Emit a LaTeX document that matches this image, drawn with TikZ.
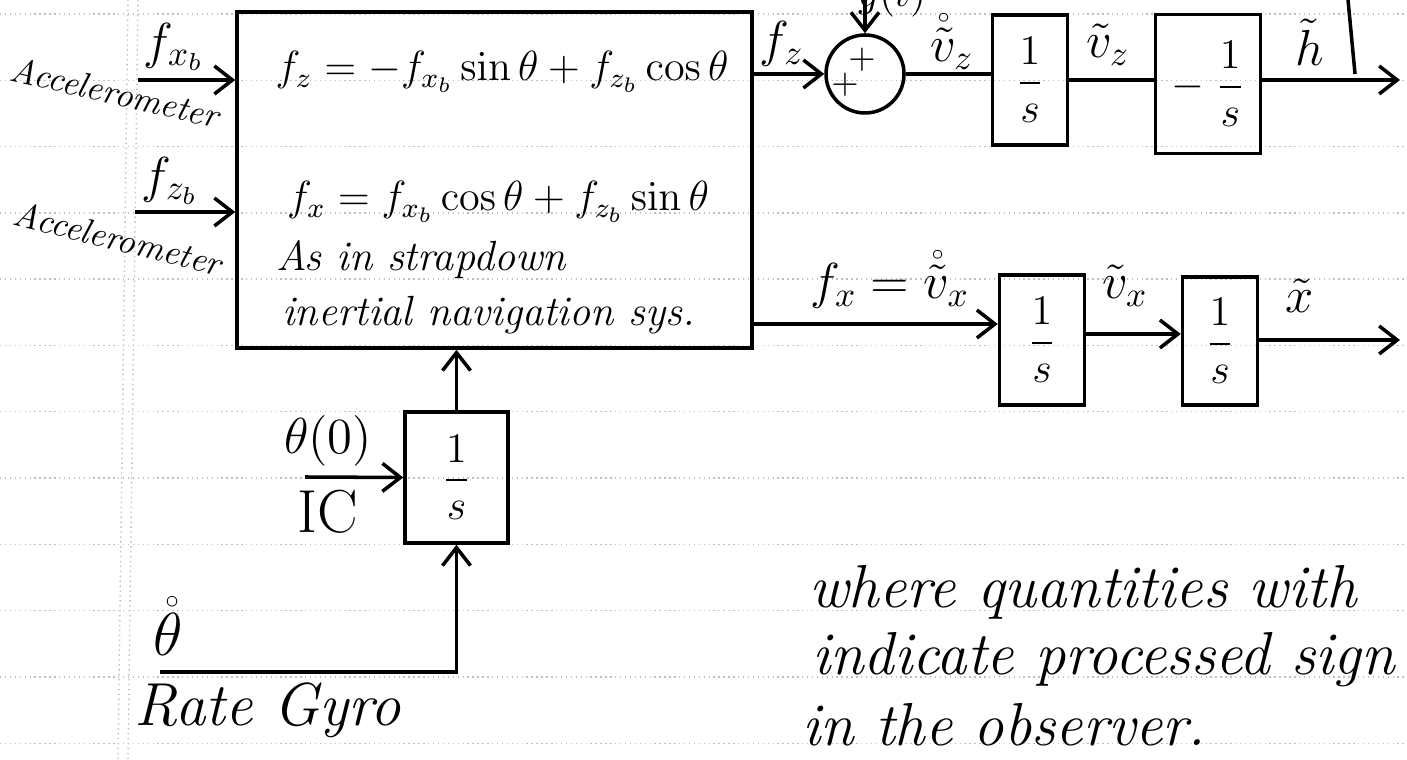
\documentclass[tikz,border=0pt]{standalone}
\usepackage{amsmath,amssymb}
\usetikzlibrary{arrows.meta,positioning}

\begin{document}
\begin{tikzpicture}[
  blk/.style={draw,line width=1pt,inner sep=0pt,font=\large},
  summer/.style={circle,draw,line width=1pt,minimum size=7.8mm,inner sep=0pt},
  sig/.style={line width=1pt,-{Straight Barb[length=1.8mm,width=2.8mm]}},
  wire/.style={line width=1pt},
  lbl/.style={font=\Large,inner sep=1pt},
  hand/.style={font=\LARGE\itshape,inner sep=1pt},
  ruling/.style={draw=black!25,densely dotted,line width=0.4pt}
]
\useasboundingbox (0,0) rectangle (14.07,7.60);
% ruled paper
\foreach \k in {0,...,11}
  \draw[ruling] (0,{7.46-0.663*\k}) -- (14.07,{7.46-0.663*\k});
\draw[ruling] (1.28,7.60) -- (1.18,0);
\draw[ruling] (1.38,7.60) -- (1.28,0);

% navigation block
\node[draw,line width=1pt,minimum width=5.15cm,minimum height=3.36cm,
  inner sep=0pt] (nav) at (4.945,5.80) {};
\node[lbl,font=\large] (eqz) at (5.02,6.88)
  {$f_z=-f_{x_b}\sin\theta+f_{z_b}\cos\theta$};
\node[lbl,font=\large] (eqx) at (4.98,5.58)
  {$f_x=f_{x_b}\cos\theta+f_{z_b}\sin\theta$};
\node[hand,font=\large\itshape,anchor=west] (note1) at (2.72,5.00)
  {As in strapdown};
\node[hand,font=\large\itshape,anchor=west] (note2) at (2.78,4.45)
  {inertial navigation sys.};

% accelerometers
\coordinate (a1) at (1.38,6.80);
\draw[sig] (a1) -- (a1 -| nav.west);
\node[lbl] (fxb) at (1.74,7.13) {$f_{x_b}$};
\node[hand,font=\normalsize\itshape,rotate=-13] (acc1) at (1.15,6.68)
  {Accelerometer};
\coordinate (a2) at (1.35,5.48);
\draw[sig] (a2) -- (a2 -| nav.west);
\node[lbl] (fzb) at (1.70,5.79) {$f_{z_b}$};
\node[hand,font=\normalsize\itshape,rotate=-14] (acc2) at (1.18,5.22)
  {Accelerometer};

% vertical channel
\node[summer] (sum) at (8.65,6.86) {};
\node[inner sep=0pt] (p1) at ([shift={(-0.3mm,1.4mm)}]sum.center) {$+$};
\node[inner sep=0pt] (p2) at ([shift={(-2.0mm,-1.1mm)}]sum.center) {$+$};
\draw[sig] (nav.east |- sum.west) -- (sum.west);
\node[lbl] (fz) at (7.82,7.16) {$f_z$};
\coordinate (gin) at (8.65,7.60);
\draw[sig] (gin) -- (sum.north);
\node[lbl,font=\large,anchor=base] (g) at (8.92,7.53) {$g(t)$};
\node[blk,minimum width=7.5mm,minimum height=13mm] (i1) at (10.30,6.80)
  {$\dfrac{1}{s}$};
\draw[wire] (sum.east) -- (sum.east -| i1.west);
\node[lbl] (vzd) at (9.52,7.18) {$\mathring{\tilde{v}}_z$};
\node[blk,minimum width=10.5mm,minimum height=13.9mm] (i2) at (12.08,6.76)
  {$-\;\dfrac{1}{s}$};
\draw[wire] (i1.east) -- (i1.east -| i2.west);
\node[lbl] (vz) at (11.08,7.15) {$\tilde{v}_z$};
\coordinate (hout) at (14.00,6.80);
\draw[sig] (i2.east |- hout) -- (hout);
\node[lbl] (h) at (13.10,7.18) {$\tilde{h}$};
\coordinate (r1) at (13.48,7.60);
\coordinate (r2) at (13.55,6.86);
\draw[wire] (r1) -- (r2);

% horizontal channel
\node[blk,minimum width=8.5mm,minimum height=13mm] (i3) at (10.42,4.20)
  {$\dfrac{1}{s}$};
\node[blk,minimum width=7.5mm,minimum height=12.8mm] (i4) at (12.20,4.19)
  {$\dfrac{1}{s}$};
\coordinate (x3) at ([yshift=1.6mm]i3.west);
\draw[sig] (x3 -| nav.east) -- (x3);
\node[lbl] (fx) at (8.90,4.80) {$f_x=\mathring{\tilde{v}}_x$};
\coordinate (x4) at ([yshift=0.7mm]i4.west);
\draw[sig] (x4 -| i3.east) -- (x4);
\node[lbl] (vx) at (11.25,4.74) {$\tilde{v}_x$};
\coordinate (xout) at (14.00,4.20);
\draw[sig] (i4.east |- xout) -- (xout);
\node[lbl] (xt) at (13.00,4.64) {$\tilde{x}$};

% rate gyro
\node[blk,minimum width=10.3mm,minimum height=13.1mm] (i5) at (4.565,2.825)
  {$\dfrac{1}{s}$};
\draw[sig] (i5.north) -- (i5.north |- nav.south);
\coordinate (ic) at (3.05,2.83);
\draw[sig] (ic) -- (i5.west);
\node[lbl] (th0) at (3.28,3.19) {$\theta(0)$};
\node[font=\LARGE] (icl) at (3.28,2.48) {IC};
\coordinate (gyro) at (1.60,0.88);
\draw[sig] (gyro) -| (i5.south);
\node[lbl,font=\LARGE] (thd) at (1.68,1.34) {$\mathring{\theta}$};
\node[hand] (rg) at (2.68,0.50) {Rate Gyro};

% remark
\node[hand,anchor=west] (n1) at (8.05,1.68) {where quantities with};
\node[hand,anchor=west] (n2) at (8.08,1.00) {indicate processed sign};
\node[hand,anchor=west] (n3) at (7.98,0.35) {in the observer.};
\end{tikzpicture}
\end{document}
